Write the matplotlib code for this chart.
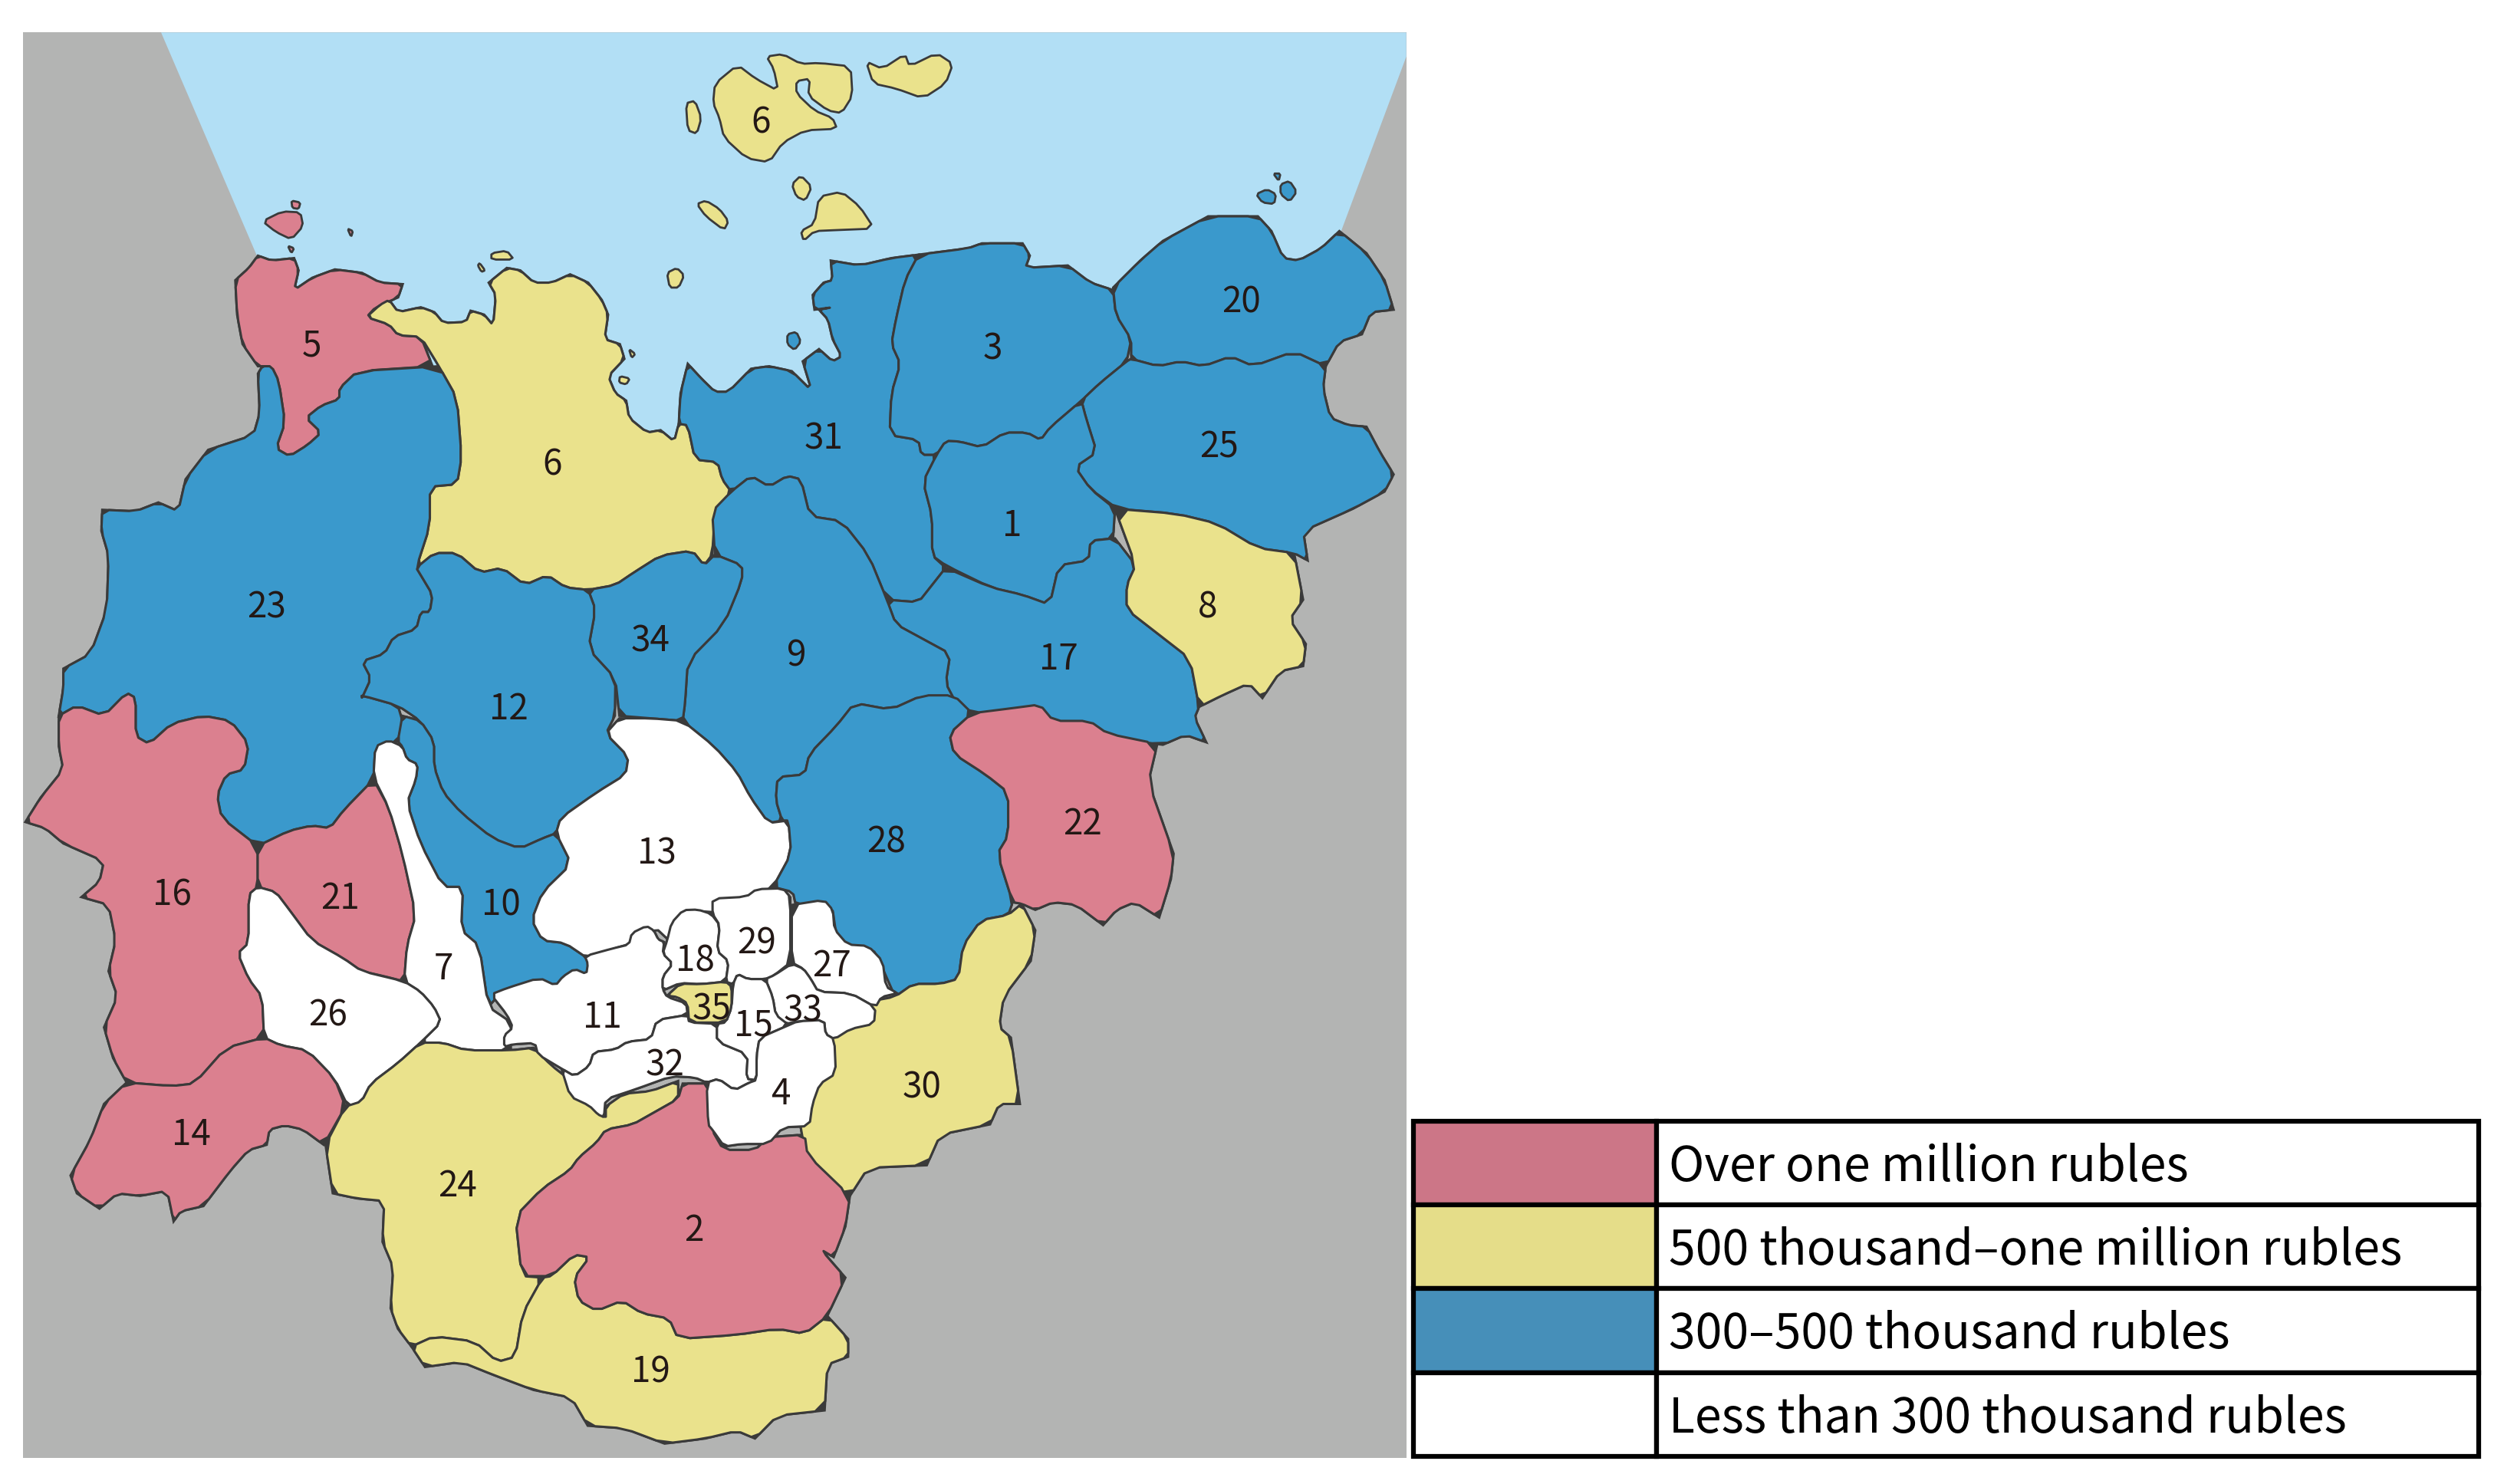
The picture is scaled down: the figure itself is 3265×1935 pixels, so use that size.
import matplotlib
matplotlib.use('Agg')
from matplotlib import pyplot as plt
from matplotlib.patches import Polygon, Rectangle

plt.rcParams['font.family'] = ['Noto Sans CJK JP', 'DejaVu Sans']

PINK = '#DB808F'
YELLOW = '#EAE28C'
BLUE = '#3A99CC'
WHITE = '#FFFFFF'
GRAY = '#B3B4B3'
SEA = '#B2DFF5'
EDGE = '#3A3A3A'

def up(pts):
    return [(x * 1.180, y * 0.641) for x, y in pts]

def lo(pts):
    return [(x * 1.179, 900 + y * 0.666) for x, y in pts]

def mid(pts):
    return [(600 + x * 0.3827, 1100 + y * 0.3333) for x, y in pts]

# one pass of corner cutting, the borders in the picture are a bit rounded
def rounded(pts):
    out = []
    for i in range(len(pts)):
        x0, y0 = pts[i]
        x1, y1 = pts[(i + 1) % len(pts)]
        out.append((0.8 * x0 + 0.2 * x1, 0.8 * y0 + 0.2 * y1))
        out.append((0.2 * x0 + 0.8 * x1, 0.2 * y0 + 0.8 * y1))
    return out

sea = up([(178, 66), (1554, 66), (1554, 115), (1480, 480), (1300, 700), (800, 920), (700, 920), (400, 720), (285, 525)])

r5 = up([(285, 520), (300, 530), (325, 525), (330, 550), (325, 590), (345, 565), (370, 548), (400, 555), (420, 575), (445, 578), (440, 605), (415, 625), (405, 645), (430, 660), (440, 682), (465, 685), (478, 745), (395, 755), (375, 790), (375, 812), (355, 825), (338, 850), (355, 880), (340, 905), (320, 928), (305, 912), (315, 860), (308, 775), (300, 745), (285, 745), (268, 700), (262, 640), (260, 570), (275, 545)])
r6 = up([(405, 645), (420, 620), (430, 610), (440, 635), (465, 625), (480, 635), (490, 657), (515, 655), (520, 632), (535, 640), (545, 662), (548, 600), (540, 575), (560, 545), (575, 550), (590, 575), (610, 575), (630, 558), (650, 575), (665, 610), (672, 640), (668, 690), (685, 700), (690, 730), (672, 765), (680, 800), (692, 815), (695, 850), (715, 880), (730, 875), (745, 898), (750, 862), (760, 865), (768, 935), (793, 940), (798, 975), (808, 1000), (790, 1040), (787, 1128), (778, 1150), (765, 1120), (730, 1130), (700, 1165), (680, 1190), (650, 1200), (625, 1195), (605, 1170), (580, 1190), (555, 1155), (530, 1165), (505, 1125), (480, 1125), (460, 1155), (475, 1070), (475, 990), (505, 985), (510, 930), (505, 810), (485, 745), (465, 685), (440, 682), (430, 660)])
r31 = up([(918, 530), (950, 540), (985, 525), (1015, 518), (1000, 570), (990, 650), (985, 700), (995, 740), (985, 800), (983, 885), (1015, 895), (1018, 925), (1035, 925), (1020, 980), (1030, 1050), (1030, 1130), (1045, 1155), (1030, 1190), (1015, 1225), (980, 1220), (960, 1130), (930, 1060), (895, 1050), (885, 975), (870, 968), (850, 990), (830, 968), (808, 1000), (798, 975), (793, 940), (768, 935), (760, 865), (750, 862), (752, 800), (760, 740), (775, 770), (790, 797), (805, 797), (830, 750), (850, 745), (875, 755), (897, 795), (887, 735), (905, 710), (920, 735), (930, 725), (920, 690), (915, 650), (905, 630), (920, 625), (900, 630), (898, 600), (910, 575), (920, 570)])
r3 = up([(1015, 518), (1070, 505), (1085, 495), (1130, 495), (1138, 520), (1133, 545), (1180, 540), (1205, 575), (1230, 590), (1233, 640), (1250, 690), (1245, 735), (1215, 780), (1195, 815), (1160, 870), (1150, 895), (1135, 880), (1110, 880), (1085, 910), (1060, 898), (1045, 897), (1035, 925), (1018, 925), (1015, 895), (983, 885), (985, 800), (995, 740), (985, 700), (990, 650), (1000, 570)])
r20 = up([(1230, 585), (1260, 530), (1285, 490), (1335, 440), (1390, 440), (1405, 470), (1418, 525), (1435, 530), (1460, 505), (1480, 470), (1510, 515), (1530, 570), (1540, 630), (1515, 635), (1505, 680), (1480, 695), (1465, 745), (1430, 715), (1385, 745), (1360, 725), (1330, 745), (1305, 735), (1280, 745), (1250, 730), (1250, 690), (1233, 640)])
r25 = up([(1250, 730), (1280, 745), (1305, 735), (1330, 745), (1360, 725), (1385, 745), (1430, 715), (1465, 745), (1462, 790), (1470, 850), (1490, 865), (1510, 868), (1525, 920), (1540, 965), (1530, 1000), (1495, 1035), (1440, 1080), (1445, 1140), (1430, 1125), (1390, 1115), (1345, 1065), (1300, 1045), (1235, 1035), (1205, 995), (1188, 950), (1212, 920), (1200, 850), (1195, 815), (1215, 780), (1245, 735)])
r1 = up([(1045, 897), (1060, 898), (1085, 910), (1110, 880), (1135, 880), (1150, 895), (1160, 870), (1195, 815), (1200, 850), (1212, 920), (1188, 950), (1205, 995), (1232, 1035), (1230, 1095), (1205, 1100), (1203, 1140), (1170, 1150), (1160, 1230), (1130, 1210), (1095, 1195), (1045, 1150), (1030, 1130), (1030, 1050), (1020, 980), (1035, 925)])
r8 = up([(1232, 1035), (1300, 1045), (1345, 1065), (1390, 1115), (1430, 1125), (1440, 1220), (1425, 1260), (1443, 1310), (1440, 1355), (1415, 1365), (1395, 1420), (1380, 1390), (1350, 1415), (1325, 1438), (1315, 1340), (1280, 1290), (1245, 1240), (1245, 1190), (1255, 1150)])
r17 = up([(1045, 1155), (1095, 1195), (1130, 1210), (1160, 1230), (1170, 1150), (1203, 1140), (1205, 1100), (1232, 1095), (1255, 1150), (1245, 1190), (1245, 1240), (1280, 1290), (1315, 1340), (1325, 1438), (1320, 1460), (1333, 1510), (1310, 1495), (1285, 1515), (1225, 1500), (1205, 1470), (1165, 1470), (1150, 1440), (1120, 1450), (1075, 1450), (1055, 1425), (1045, 1390), (1050, 1330), (1020, 1300), (990, 1270), (980, 1220), (1015, 1225), (1030, 1190)])
r9 = (up([(808, 1000), (830, 968), (850, 990), (870, 968), (885, 975), (895, 1050), (930, 1060), (960, 1130), (980, 1220), (990, 1270), (1020, 1300), (1050, 1330), (1045, 1390), (1055, 1425)])
      + lo([(1020, 10), (985, 38), (945, 25), (925, 70), (895, 125), (890, 165), (860, 170), (858, 215), (865, 255), (850, 260), (830, 210), (815, 160), (790, 110), (755, 60)])
      + up([(757, 1430), (760, 1345), (800, 1270), (820, 1180), (820, 1150), (790, 1128), (787, 1040)]))
r34 = (up([(790, 1128), (820, 1150), (820, 1180), (800, 1270), (760, 1345), (757, 1430)])
       + lo([(755, 60), (720, 55), (685, 50)])
       + up([(680, 1380), (650, 1320), (658, 1240), (650, 1200), (680, 1190), (700, 1165), (730, 1130), (765, 1120), (778, 1150)]))
r12 = (up([(460, 1155), (480, 1125), (505, 1125), (530, 1165), (555, 1155), (580, 1190), (605, 1170), (625, 1195), (650, 1200), (658, 1240), (650, 1320), (680, 1380)])
       + lo([(680, 50), (670, 85), (695, 130), (692, 165), (660, 200), (620, 250), (615, 280), (600, 290), (575, 310), (545, 290), (510, 240), (490, 200), (480, 150), (480, 100), (465, 60), (440, 30), (400, 10)])
       + up([(400, 1420), (410, 1380), (400, 1345), (425, 1330), (435, 1295), (460, 1280), (465, 1245), (475, 1245), (478, 1210), (465, 1170)]))
r23 = (up([(113, 1037), (150, 1040), (175, 1022), (197, 1040), (205, 975), (230, 915), (280, 885), (287, 840), (285, 760), (290, 745), (300, 745), (308, 775), (315, 860), (305, 912), (320, 928), (340, 905), (355, 880), (338, 850), (355, 825), (375, 812), (375, 790), (395, 755), (485, 745), (505, 810), (510, 930), (505, 985), (475, 990), (475, 1070), (460, 1155), (465, 1170), (478, 1210), (475, 1245), (465, 1245), (460, 1280), (435, 1295), (425, 1330), (400, 1345), (410, 1380), (400, 1420)])
       + lo([(400, 10), (440, 30), (445, 60), (440, 100), (415, 110), (413, 175), (380, 235), (365, 270), (345, 265), (320, 275), (285, 305), (245, 250), (240, 205), (250, 165), (270, 155), (275, 105), (255, 60), (225, 50), (190, 65), (165, 105), (150, 90), (150, 15), (140, 5), (115, 50), (85, 30), (65, 50)])
       + up([(70, 1400), (70, 1360), (100, 1330), (118, 1240), (120, 1130), (112, 1080)]))
r16 = lo([(65, 50), (85, 30), (115, 50), (140, 5), (150, 15), (150, 90), (165, 105), (190, 65), (225, 50), (255, 60), (275, 105), (270, 155), (250, 165), (240, 205), (245, 250), (285, 305), (285, 385), (275, 400), (275, 495), (263, 515), (275, 565), (290, 600), (292, 680), (250, 700), (215, 770), (190, 775), (140, 768), (125, 720), (115, 660), (130, 600), (120, 550), (128, 490), (120, 420), (90, 405), (110, 375), (115, 335), (70, 300), (50, 270), (28, 258), (45, 210), (70, 155), (65, 110)])
r21 = lo([(285, 305), (320, 275), (345, 265), (365, 270), (380, 235), (413, 175), (430, 230), (445, 320), (460, 440), (450, 500), (447, 570), (425, 560), (400, 550), (380, 525), (345, 490), (320, 430), (305, 395), (285, 385)])
r26 = lo([(285, 385), (305, 395), (320, 430), (345, 490), (380, 525), (400, 550), (447, 570), (465, 590), (480, 620), (488, 650), (465, 690), (440, 730), (410, 770), (400, 805), (385, 815), (370, 760), (340, 705), (310, 695), (292, 680), (290, 600), (275, 565), (263, 515), (275, 495), (275, 400)])
r7 = lo([(415, 110), (430, 98), (445, 110), (450, 135), (462, 145), (460, 175), (450, 220), (465, 300), (490, 385), (512, 385), (510, 470), (530, 500), (540, 620), (565, 650), (565, 705), (515, 705), (490, 690), (465, 690), (488, 650), (480, 620), (465, 590), (447, 570), (450, 500), (460, 440), (445, 320), (430, 230), (413, 170)])
r14 = lo([(140, 768), (190, 775), (215, 770), (250, 700), (292, 680), (310, 695), (340, 705), (370, 760), (382, 815), (358, 890), (335, 860), (315, 852), (298, 860), (295, 890), (275, 900), (255, 940), (225, 1010), (200, 1020), (192, 1040), (185, 980), (155, 990), (130, 985), (110, 1015), (85, 985), (78, 950), (100, 880), (115, 810)])
r10 = lo([(445, 50), (465, 60), (480, 100), (480, 150), (490, 200), (510, 240), (545, 290), (575, 310), (600, 290), (615, 280), (632, 340), (600, 395), (588, 450), (600, 490), (625, 495), (650, 525), (655, 555), (635, 555), (615, 590), (590, 570), (555, 590), (540, 620), (530, 500), (510, 470), (512, 385), (490, 385), (465, 300), (450, 220), (460, 175), (462, 145), (450, 135), (445, 110), (440, 100)])
r13 = lo([(685, 55), (720, 55), (755, 60), (790, 110), (815, 160), (830, 210), (850, 260), (872, 255), (875, 320), (855, 385), (830, 405), (795, 410), (793, 435), (770, 432), (755, 445), (740, 490), (725, 465), (700, 495), (680, 505), (650, 525), (625, 495), (600, 490), (588, 450), (600, 395), (632, 340), (615, 280), (620, 250), (660, 200), (692, 165), (695, 130), (670, 85)])
r28 = lo([(1055, 10), (1075, 45), (1050, 85), (1055, 125), (1090, 165), (1115, 200), (1115, 285), (1103, 320), (1120, 415), (1115, 440), (1085, 450), (1065, 500), (1060, 565), (1040, 575), (1010, 575), (990, 600), (975, 540), (965, 505), (935, 500), (925, 480), (920, 420), (880, 420), (877, 395), (855, 385), (875, 320), (872, 255), (865, 255), (858, 215), (860, 170), (890, 165), (895, 125), (925, 70), (945, 25), (985, 38), (1020, 10)])
r22 = lo([(1075, 45), (1120, 35), (1150, 28), (1165, 60), (1205, 60), (1225, 85), (1280, 105), (1270, 180), (1298, 320), (1295, 370), (1282, 445), (1255, 415), (1235, 430), (1220, 460), (1190, 420), (1165, 415), (1145, 430), (1130, 418), (1120, 415), (1103, 320), (1115, 285), (1115, 200), (1090, 165), (1055, 125), (1050, 85)])
# left side of 30 runs on under the white districts drawn after it
r30 = lo([(1130, 418), (1145, 470), (1140, 530), (1110, 600), (1105, 660), (1118, 680), (1128, 810), (1105, 810), (1095, 850), (1040, 870), (1025, 930), (960, 935), (940, 990), (905, 950), (890, 900), (880, 800), (900, 770), (905, 690), (950, 640), (960, 610), (990, 600), (1010, 575), (1040, 575), (1060, 565), (1065, 500), (1085, 450), (1115, 440)])
r2 = lo([(755, 770), (785, 770), (787, 860), (800, 900), (835, 900), (850, 875), (890, 870), (893, 910), (940, 990), (935, 1050), (922, 1110), (908, 1095), (935, 1150), (915, 1225), (890, 1260), (860, 1250), (815, 1262), (750, 1270), (740, 1230), (710, 1220), (688, 1195), (660, 1215), (640, 1195), (635, 1150), (652, 1110), (635, 1105), (610, 1147), (577, 1147), (570, 1030), (600, 975), (630, 940), (640, 915), (660, 885), (670, 860), (700, 850), (720, 830), (750, 800)])
r24 = lo([(465, 690), (490, 690), (515, 705), (565, 705), (590, 700), (610, 735), (628, 760), (630, 790), (655, 815), (670, 840), (670, 815), (690, 790), (720, 785), (750, 765), (750, 800), (720, 830), (700, 850), (670, 860), (660, 885), (640, 915), (630, 940), (600, 975), (570, 1030), (577, 1147), (600, 1150), (578, 1220), (570, 1305), (550, 1315), (525, 1275), (480, 1265), (455, 1285), (440, 1250), (432, 1210), (435, 1130), (423, 1080), (425, 1000), (395, 995), (368, 985), (360, 890), (382, 815), (400, 805), (410, 770), (440, 730)])
r19 = lo([(455, 1285), (480, 1265), (525, 1275), (550, 1315), (570, 1305), (578, 1220), (600, 1150), (610, 1147), (635, 1105), (652, 1110), (635, 1150), (640, 1195), (660, 1215), (688, 1195), (710, 1220), (740, 1230), (750, 1270), (815, 1262), (860, 1250), (890, 1260), (915, 1225), (938, 1270), (938, 1305), (915, 1320), (912, 1410), (860, 1420), (835, 1465), (815, 1450), (780, 1465), (735, 1475), (690, 1445), (650, 1440), (632, 1385), (590, 1370), (545, 1340), (510, 1315), (470, 1325)])
r11 = mid([(105, 590), (160, 565), (270, 525), (325, 555), (350, 520), (390, 490), (430, 510), (435, 470), (425, 440), (520, 410), (575, 395), (585, 350), (635, 322), (660, 340), (675, 375), (695, 385), (690, 430), (725, 470), (690, 520), (690, 570), (705, 600), (770, 625), (775, 670), (670, 690), (650, 765), (570, 775), (530, 805), (455, 815), (440, 870), (390, 910), (345, 880), (265, 825), (255, 780), (180, 785), (150, 795), (150, 750), (180, 720), (160, 670)])
r32 = mid([(345, 880), (390, 910), (440, 870), (455, 815), (530, 805), (570, 775), (650, 765), (670, 690), (775, 670), (780, 700), (875, 705), (875, 775), (980, 825), (975, 920), (1010, 925), (985, 935), (935, 965), (880, 920), (840, 935), (800, 915), (720, 910), (600, 960), (495, 1000), (490, 1070), (470, 1060), (440, 1025), (375, 990)])
r18 = mid([(705, 380), (720, 310), (760, 260), (810, 258), (855, 275), (885, 320), (875, 420), (915, 460), (905, 540), (820, 550), (750, 545), (690, 575), (690, 520), (725, 470), (690, 430)])
r29 = mid([(860, 215), (975, 208), (1010, 178), (1100, 175), (1125, 210), (1125, 465), (1070, 515), (1040, 530), (980, 530), (945, 510), (930, 550), (905, 540), (915, 460), (875, 420), (885, 320), (860, 275)])
r27 = mid([(1130, 240), (1240, 220), (1270, 260), (1275, 335), (1320, 395), (1390, 400), (1440, 460), (1450, 560), (1490, 585), (1435, 600), (1415, 640), (1330, 585), (1220, 580), (1195, 530), (1170, 490), (1130, 465)])
r33 = mid([(1040, 530), (1070, 515), (1130, 470), (1170, 490), (1195, 530), (1220, 580), (1330, 585), (1415, 640), (1410, 705), (1330, 725), (1275, 765), (1245, 745), (1240, 690), (1150, 695), (1110, 705), (1075, 670), (1065, 600)])
r15 = mid([(930, 550), (945, 510), (980, 530), (1040, 530), (1065, 600), (1075, 670), (1120, 710), (1020, 760), (1010, 830), (1010, 925), (975, 920), (980, 825), (875, 775), (875, 705), (905, 700), (925, 640)])
r35 = mid([(705, 595), (750, 548), (820, 550), (905, 540), (925, 560), (925, 640), (905, 700), (780, 700), (775, 625), (740, 600)])
r4 = mid([(840, 935), (880, 920), (935, 965), (985, 935), (1010, 925), (1010, 830), (1020, 760), (1110, 715), (1150, 695), (1240, 690), (1245, 745), (1275, 765), (1280, 900), (1225, 940), (1200, 1020), (1190, 1105), (1100, 1110), (1050, 1175), (960, 1175), (900, 1185), (860, 1120), (845, 1100)])

yellow_islands = [
    up([(790, 170), (815, 132), (835, 160), (860, 185), (855, 140), (847, 115), (865, 110), (885, 130), (905, 128), (940, 135), (942, 195), (930, 230), (915, 225), (893, 195), (895, 160), (880, 165), (880, 190), (900, 225), (920, 240), (925, 262), (890, 265), (865, 290), (850, 330), (825, 322), (800, 280), (795, 240), (788, 210)]),
    up([(957, 125), (975, 140), (1000, 110), (1005, 135), (1035, 108), (1053, 130), (1045, 170), (1020, 200), (990, 180), (965, 170)]),
    up([(758, 210), (768, 205), (775, 240), (770, 272), (760, 265)]),
    up([(875, 375), (885, 357), (897, 380), (890, 408), (880, 400)]),
    up([(770, 415), (780, 408), (795, 425), (805, 450), (800, 468), (780, 440)]),
    up([(885, 470), (900, 455), (905, 400), (930, 390), (950, 420), (966, 465), (925, 468), (900, 470), (888, 490)]),
    up([(543, 515), (560, 510), (568, 528), (543, 528)]),
    up([(530, 535), (536, 550), (532, 553), (528, 540)]),
    up([(737, 555), (748, 545), (756, 560), (750, 585), (740, 585)]),
    up([(695, 710), (702, 720), (698, 728)]),
    up([(685, 765), (696, 770), (692, 782), (684, 778)]),
]
pink_islands = [
    up([(290, 450), (312, 430), (332, 432), (335, 460), (322, 487), (305, 472)]),
    up([(322, 408), (332, 412), (330, 425), (323, 423)]),
    up([(384, 465), (390, 470), (388, 482)]),
    up([(318, 500), (325, 505), (322, 515)]),
]
blue_islands = [
    up([(870, 680), (880, 675), (885, 695), (878, 712), (870, 700)]),
    up([(1388, 395), (1400, 385), (1410, 395), (1408, 415), (1395, 412)]),
    up([(1415, 375), (1425, 368), (1433, 390), (1425, 410), (1415, 395)]),
    up([(1407, 353), (1415, 353), (1413, 368)]),
]

regions = [
    (r5, PINK), (r6, YELLOW), (r31, BLUE), (r3, BLUE), (r20, BLUE), (r25, BLUE), (r1, BLUE),
    (r17, BLUE), (r8, YELLOW), (r9, BLUE), (r34, BLUE), (r23, BLUE), (r12, BLUE), (r16, PINK),
    (r21, PINK), (r10, BLUE), (r7, WHITE), (r26, WHITE), (r14, PINK), (r13, WHITE), (r28, BLUE),
    (r22, PINK), (r30, YELLOW), (r24, YELLOW), (r19, YELLOW), (r2, PINK), (r11, WHITE), (r32, WHITE),
    (r18, WHITE), (r29, WHITE), (r27, WHITE), (r33, WHITE), (r15, WHITE), (r4, WHITE), (r35, YELLOW),
]

label_names = ['1', '2', '3', '4', '5', '6', '6', '7', '8', '9', '10', '11', '12', '13', '14', '15', '16', '17',
               '18', '19', '20', '21', '22', '23', '24', '25', '26', '27', '28', '29', '30', '31', '32', '33', '34', '35']
label_x = [630, 432, 618, 486, 194, 344, 474, 276, 752, 496, 312, 375, 317, 409, 119, 469, 107, 659,
           433, 405, 773, 212, 674, 166, 285, 759, 204, 518, 552, 471, 574, 513, 414, 500, 405, 443]
label_y = [326, 765, 216, 680, 214, 288, 75, 602, 377, 407, 562, 632, 440, 530, 705, 637, 556, 409,
           597, 853, 187, 558, 512, 377, 737, 277, 631, 600, 523, 586, 676, 272, 662, 628, 398, 627]
PX = 2.094  # label positions were read at the smaller preview size

legend_labels = ['Over one million rubles', '500 thousand\u2013one million rubles',
                 '300\u2013500 thousand rubles', 'Less than 300 thousand rubles']
legend_colors = ['#CC7687', '#E5DD89', '#468FB9', '#FFFFFF']
legend_rows = [1462, 1571, 1680, 1790, 1899]

fig = plt.figure(figsize=(32.66, 19.35), dpi=100, facecolor='white')
ax = fig.add_axes([0, 0, 1, 1])
ax.set_xlim(0, 3266)
ax.set_ylim(1935, 0)
ax.axis('off')

ax.add_patch(Rectangle((30, 42), 1804, 1859, facecolor=GRAY, edgecolor='none', zorder=0))
ax.add_patch(Polygon(sea, closed=True, facecolor=SEA, edgecolor='none', zorder=1))

# dark pass first so that small seams between neighbours read as border, not as gray
for pts, color in regions:
    ax.add_patch(Polygon(pts, closed=True, facecolor=EDGE, edgecolor=EDGE, linewidth=2.2, zorder=1.5))

z = 2
for pts, color in regions:
    ax.add_patch(Polygon(rounded(pts), closed=True, facecolor=color, edgecolor=EDGE, linewidth=2.2, joinstyle='round', zorder=z))
    z += 1
for group, color in [(yellow_islands, YELLOW), (pink_islands, PINK), (blue_islands, BLUE)]:
    for pts in group:
        ax.add_patch(Polygon(rounded(pts), closed=True, facecolor=color, edgecolor=EDGE, linewidth=2.0, joinstyle='round', zorder=z))

for name, x, y in zip(label_names, label_x, label_y):
    ax.text(x * PX, y * PX + 3, name, fontsize=33, color='#231815', ha='center', va='center', zorder=100)

# legend table
left, divider, right = 1843, 2160, 3232
for i in range(4):
    top, bottom = legend_rows[i], legend_rows[i + 1]
    ax.add_patch(Rectangle((left, top), divider - left, bottom - top, facecolor=legend_colors[i], edgecolor='black', linewidth=4.5, zorder=50))
    ax.add_patch(Rectangle((divider, top), right - divider, bottom - top, facecolor='white', edgecolor='black', linewidth=4.5, zorder=50))
    ax.text(divider + 16, (top + bottom) / 2 + 5, legend_labels[i], fontsize=45, color='black', ha='left', va='center', zorder=60)

fig.savefig('out.png', dpi=100)
plt.close(fig)
